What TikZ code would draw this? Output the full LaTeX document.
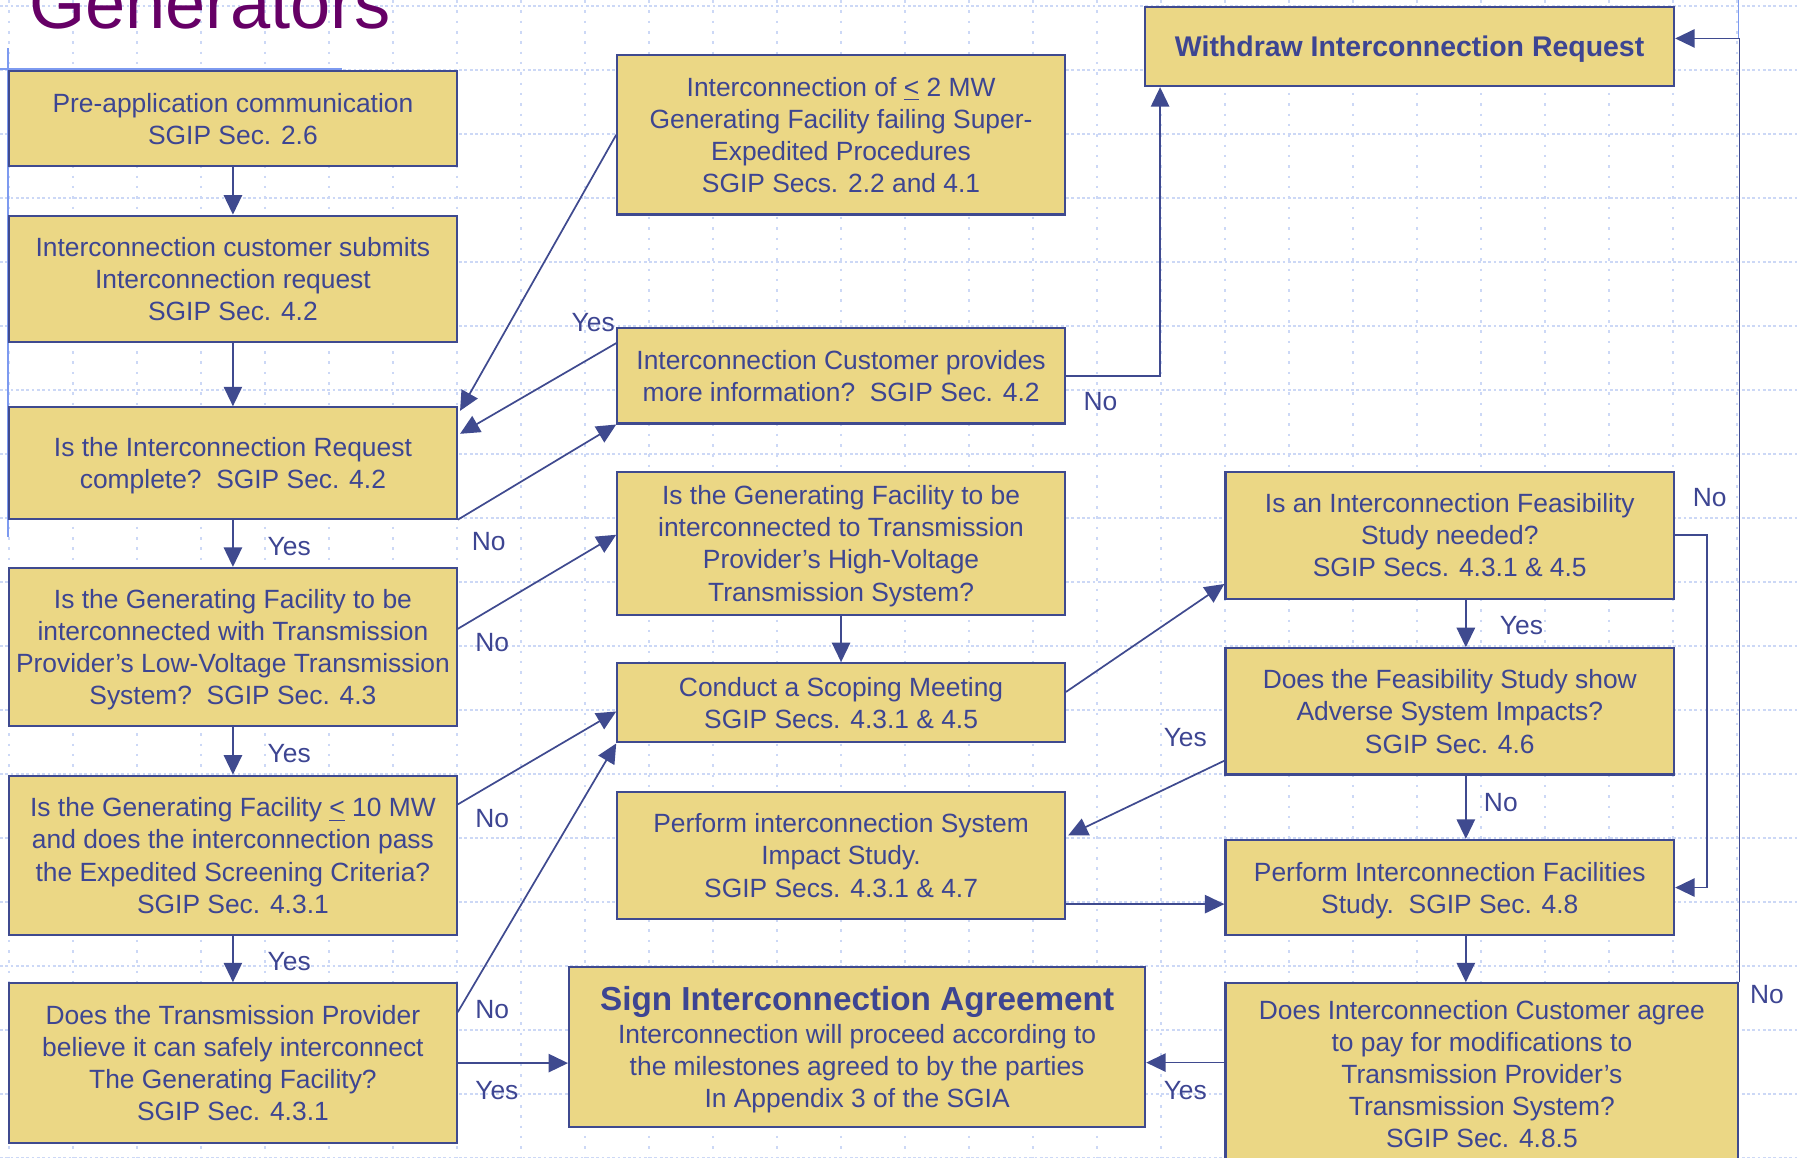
\documentclass[tikz,border=0pt]{standalone}
\usepackage{fontspec}
\setmainfont{Liberation Sans}
\usetikzlibrary{arrows.meta,calc}
\definecolor{boxfill}{HTML}{EBD785}
\definecolor{boxline}{HTML}{3F4A8F}
\definecolor{textblue}{HTML}{3D4592}
\definecolor{gridblue}{HTML}{CCD8F6}
\definecolor{tmplblue}{HTML}{7D9AF0}
\definecolor{titlepurple}{HTML}{660066}
\newcommand\bodyfont{\fontsize{11.5}{14}\selectfont}
\tikzset{stepbox/.style={rectangle, draw=boxline, fill=boxfill, line width=0.95pt, text=textblue, font=\bodyfont, align=center, inner sep=0pt, text depth=0pt}}
\tikzset{lbl/.style={text=textblue, font=\bodyfont, inner sep=0pt}}
\tikzset{arrow/.style={draw=boxline, line width=0.75pt, -{Triangle[length=8.5pt,width=8pt]}}}
\tikzset{gridh/.style={draw=gridblue, line width=1.1pt, dash pattern=on 1.2pt off 1.1pt}}
\tikzset{gridv/.style={draw=gridblue, line width=1.1pt, dash pattern=on 1.1pt off 3.4pt}}
\tikzset{tmplline/.style={draw=tmplblue, line width=0.7pt}}

\begin{document}
\begin{tikzpicture}[x=0.5pt,y=-0.5pt]
\useasboundingbox (0,0) rectangle (1567,1009);
\clip (0,0) rectangle (1567,1009);
% background grid of the slide
\foreach \i in {0,...,28} {
	\draw[gridv] (7.84+55.78*\i,0) -- ++(0,1009);
}
\foreach \j in {0,...,18} {
	\draw[gridh] (0,5.23+55.78*\j) -- ++(1567,0);
}
\draw[tmplline] (7,42) -- (7,468);
\draw[tmplline] (0,60) -- (298,60);
\draw[tmplline] (1515,0) -- (1515,34);
\node[anchor=base west, text=titlepurple, font=\fontsize{31.5}{36}\selectfont, inner sep=0pt] (title) at (25,25) {Generators};

% left column
\node[stepbox, minimum width=195pt, minimum height=41.5pt] (preapp) at (203,103.5) {Pre-application communication\\SGIP Sec. 2.6};
\node[stepbox, minimum width=195pt, minimum height=55pt] (submit) at (203,243) {Interconnection customer submits\\Interconnection request\\SGIP Sec. 4.2};
\node[stepbox, minimum width=195pt, minimum height=48.5pt] (complete) at (203,403.5) {Is the Interconnection Request\\complete?\ \ SGIP Sec. 4.2};
\node[stepbox, minimum width=195pt, minimum height=69pt] (lowvolt) at (203,564) {Is the Generating Facility to be\\interconnected with Transmission\\Provider’s Low-Voltage Transmission\\System?\ \ SGIP Sec. 4.3};
\node[stepbox, minimum width=195pt, minimum height=69.5pt] (tenmw) at (203,745.5) {Is the Generating Facility \underline{<} 10 MW\\and does the interconnection pass\\the Expedited Screening Criteria?\\SGIP Sec. 4.3.1};
\node[stepbox, minimum width=195pt, minimum height=69.5pt] (safe) at (203,926.5) {Does the Transmission Provider\\believe it can safely interconnect\\The Generating Facility?\\SGIP Sec. 4.3.1};

% middle column
\node[stepbox, minimum width=195pt, minimum height=69.5pt] (twomw) at (733,117.5) {Interconnection of \underline{<} 2 MW\\Generating Facility failing Super-\\Expedited Procedures\\SGIP Secs. 2.2 and 4.1};
\node[stepbox, minimum width=195pt, minimum height=41.5pt] (moreinfo) at (733,327.5) {Interconnection Customer provides\\more information?\ \ SGIP Sec. 4.2};
\node[stepbox, minimum width=195pt, minimum height=62.5pt] (highvolt) at (733,473.5) {Is the Generating Facility to be\\interconnected to Transmission\\Provider’s High-Voltage\\Transmission System?};
\node[stepbox, minimum width=195pt, minimum height=34.5pt] (scoping) at (733,612.5) {Conduct a Scoping Meeting\\SGIP Secs. 4.3.1 \& 4.5};
\node[stepbox, minimum width=195pt, minimum height=55.5pt] (impact) at (733,745.5) {Perform interconnection System\\Impact Study.\\SGIP Secs. 4.3.1 \& 4.7};
\node[stepbox, minimum width=251pt, minimum height=69.5pt] (sign) at (747,912.5) {{\fontsize{14.5}{17}\selectfont\bfseries Sign Interconnection Agreement}\\[0.5pt]Interconnection will proceed according to\\the milestones agreed to by the parties\\In Appendix 3 of the SGIA};

% right column
\node[stepbox, minimum width=230.5pt, minimum height=34.5pt, font=\fontsize{12.4}{15}\selectfont\bfseries] (withdraw) at (1228.5,40.5) {Withdraw Interconnection Request};
\node[stepbox, minimum width=195.5pt, minimum height=55.5pt] (feas) at (1263.5,466.5) {Is an Interconnection Feasibility\\Study needed?\\SGIP Secs. 4.3.1 \& 4.5};
\node[stepbox, minimum width=195.5pt, minimum height=55pt] (adverse) at (1263.5,620) {Does the Feasibility Study show\\Adverse System Impacts?\\SGIP Sec. 4.6};
\node[stepbox, minimum width=195.5pt, minimum height=41.5pt] (facil) at (1263.5,773.5) {Perform Interconnection Facilities\\Study.\ \ SGIP Sec. 4.8};
\node[stepbox, minimum width=223.5pt, minimum height=79pt] (agree) at (1291.5,936) {Does Interconnection Customer agree\\to pay for modifications to\\Transmission Provider’s\\Transmission System?\\SGIP Sec. 4.8.5};

% labels
\node[lbl] (yes1) at (252,476) {Yes};
\node[lbl] (yes2) at (252,657) {Yes};
\node[lbl] (yes3) at (252,838) {Yes};
\node[lbl] (yes4) at (517,281) {Yes};
\node[lbl] (yes5) at (433,950) {Yes};
\node[lbl] (yes6) at (1326,545) {Yes};
\node[lbl] (yes7) at (1033,643) {Yes};
\node[lbl] (yes8) at (1033,950) {Yes};
\node[lbl] (no1) at (426,472) {No};
\node[lbl] (no2) at (429,560) {No};
\node[lbl] (no3) at (429,713) {No};
\node[lbl] (no4) at (429,880) {No};
\node[lbl] (no5) at (959,350) {No};
\node[lbl] (no6) at (1490,434) {No};
\node[lbl] (no7) at (1308,699) {No};
\node[lbl] (no8) at (1540,867) {No};

% connectors
\draw[arrow] (preapp) -- (submit);
\draw[arrow] (submit) -- (complete);
\draw[arrow] (complete) -- (lowvolt);
\draw[arrow] (lowvolt) -- (tenmw);
\draw[arrow] (tenmw) -- (safe);
\draw[arrow] (twomw.west) -- ($(complete.north east)+(2,4)$);
\draw[arrow] ($(moreinfo.north west)+(0,14)$) -- ($(complete.north east)+(2,24)$);
\draw[arrow] (complete.south east) -- (moreinfo.south west);
\draw[arrow] ($(lowvolt.north east)+(0,54)$) -- ($(highvolt.north west)+(0,56)$);
\draw[arrow] ($(tenmw.north east)+(0,26)$) -- ($(scoping.north west)+(0,43)$);
\draw[arrow] ($(safe.north east)+(0,26)$) -- (scoping.south west);
\draw[arrow] (safe.east) -- (safe.east -| sign.west);
\draw[arrow] (moreinfo.east) -| ($(withdraw.south west)+(14,0)$);
\draw[arrow] (highvolt) -- (scoping);
\draw[arrow] ($(scoping.north east)+(0,26)$) -- ($(feas.south west)+(0,-14)$);
\coordinate (feasout) at ($(feas.south)+(14,0)$);
\coordinate (advout) at ($(adverse.south)+(14,0)$);
\coordinate (facilout) at ($(facil.south)+(14,0)$);
\draw[arrow] (feasout) -- (feasout |- adverse.north);
\draw[arrow] (advout) -- (advout |- facil.north);
\draw[arrow] (facilout) -- (facilout |- agree.north);
\draw[arrow] (feas.east) -- ++(28,0) |- (facil.east);
\draw[arrow] ($(adverse.south west)+(0,-13)$) -- ($(impact.north east)+(2,39)$);
\coordinate (impactout) at ($(impact.south east)+(0,-14)$);
\draw[arrow] (impactout) -- (impactout -| facil.west);
\coordinate (agreeout) at ($(agree.north west)+(0,70)$);
\draw[arrow] (agreeout) -- (agreeout -| sign.east);
\draw[arrow] (agree.north east) |- ($(withdraw.east)+(0,-7)$);
\end{tikzpicture}
\end{document}
